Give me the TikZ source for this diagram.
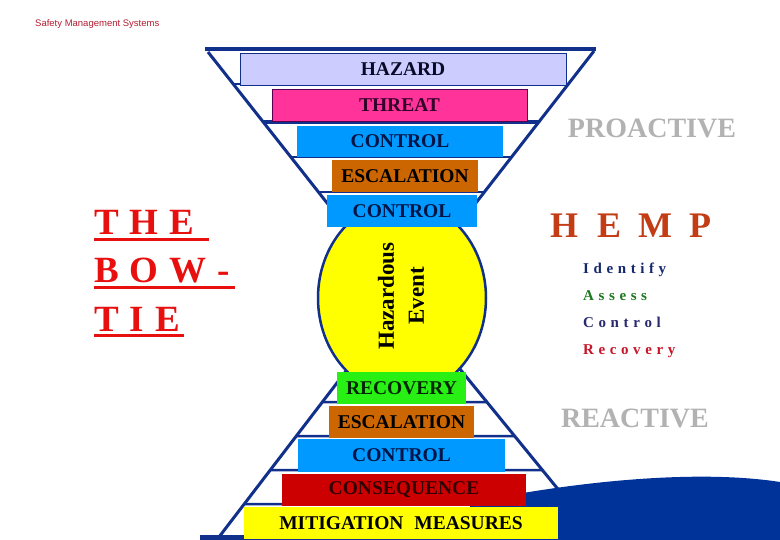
\documentclass[tikz,border=0pt]{standalone}
\usepackage{fontspec}
\setmainfont{Liberation Serif}
\newfontfamily\smsfont{Liberation Sans}
\definecolor{navy}{RGB}{16,48,140}
\definecolor{hillblue}{RGB}{0,51,153}
\definecolor{lav}{RGB}{204,204,255}
\definecolor{pinkc}{RGB}{255,51,153}
\definecolor{skyc}{RGB}{0,153,255}
\definecolor{brownc}{RGB}{204,102,0}
\definecolor{greenc}{RGB}{40,240,20}
\definecolor{redc}{RGB}{204,0,0}
\definecolor{yelc}{RGB}{255,255,0}
\definecolor{darktxt}{RGB}{10,10,40}
\definecolor{graytxt}{RGB}{178,178,178}
\definecolor{hempc}{RGB}{195,60,20}
\definecolor{bowred}{RGB}{232,15,15}
\definecolor{smsred}{RGB}{180,30,50}
\definecolor{idc}{RGB}{20,40,110}
\definecolor{asc}{RGB}{30,120,30}
\definecolor{coc}{RGB}{40,40,110}
\definecolor{rec}{RGB}{200,20,40}
\newcommand\ls{\hspace{4.6pt}}
\newcommand\bs{\hspace{11pt}}
\begin{document}
\begin{tikzpicture}[x=1pt,y=-1pt,
  funnel/.style={draw=navy,line width=3pt},
  stripe/.style={draw=navy,line width=2.5pt},
  band/.style={inner sep=0pt,outer sep=0pt,text=darktxt,
     font=\fontsize{19.5}{20}\selectfont\bfseries},
  side/.style={inner sep=0pt,font=\fontsize{28}{30}\selectfont\bfseries,text=graytxt},
  hemp/.style={inner sep=0pt,anchor=base west,font=\fontsize{15}{16}\selectfont\bfseries},
  bow/.style={inner sep=0pt,anchor=base west,text=bowred,font=\fontsize{37}{40}\selectfont\bfseries}]
\useasboundingbox (0,0) rectangle (780,540);
\fill[white] (0,0) rectangle (780,540);

% key points
\coordinate (TL) at (208,52);
\coordinate (TR) at (594,51);
\coordinate (C) at (402,298);
\coordinate (BL) at (219,537);
\coordinate (BR) at (597,537);

% funnel
\draw[navy,line width=4pt] (205,49) -- (596,49);
\draw[funnel] (TL) -- (C) -- (TR);
\draw[funnel] (BL) -- (C) -- (BR);
\foreach \yy/\w in {84/2.5,122/4,157/2.5,192/2.5}{
  \draw[navy,line width=\w pt] (intersection of TL--C and 0,\yy--1,\yy) -- (intersection of TR--C and 0,\yy--1,\yy);
}
\foreach \yy in {402,436,470,504}{
  \draw[stripe] (intersection of BL--C and 0,\yy--1,\yy) -- (intersection of BR--C and 0,\yy--1,\yy);
}
\draw[navy,line width=5pt] (200,537) -- (600,537);

% hill
\fill[hillblue] (470,540) -- (470,503) .. controls (560,484) and (690,468) .. (780,482) -- (780,540) -- cycle;

% hazardous event
\draw[navy,line width=2.5pt,fill=yelc] (C) ellipse [x radius=84, y radius=97];
\node[inner sep=0pt,rotate=90,align=center,text=black,
  font=\fontsize{23}{30}\selectfont\bfseries] (he) at (401,296) {Hazardous\\Event};

% top bands
\node[band,fill=lav,draw=navy,line width=0.8pt,minimum width=326,minimum height=32] (hazard) at (403,69) {HAZARD};
\node[band,fill=pinkc,draw={rgb,255:red,90;green,0;blue,80},line width=0.8pt,minimum width=255,minimum height=32,text={rgb,255:red,50;green,0;blue,40}] (threat) at (399.5,105) {THREAT};
\node[band,fill=skyc,minimum width=206,minimum height=31,text={rgb,255:red,0;green,20;blue,70}] (control1) at (400,141.5) {CONTROL};
\node[band,fill=brownc,minimum width=146,minimum height=32,text=black] (esc1) at (405,176) {ESCALATION};
\node[band,fill=skyc,minimum width=150,minimum height=32,text={rgb,255:red,0;green,20;blue,70}] (control2) at (402,211) {CONTROL};

% bottom bands
\node[band,fill=greenc,minimum width=129,minimum height=32,text={rgb,255:red,0;green,40;blue,0}] (recovery) at (401.5,388) {RECOVERY};
\node[band,fill=brownc,minimum width=145,minimum height=32,text=black] (esc2) at (401.5,422) {ESCALATION};
\node[band,fill=skyc,minimum width=207,minimum height=33,text={rgb,255:red,0;green,20;blue,70}] (control3) at (401.5,455.5) {CONTROL};
\node[band,fill=redc,minimum width=244,minimum height=32,text={rgb,255:red,50;green,0;blue,0}] (conseq) at (404,490) {CONSEQUENCE};
\node[band,fill=yelc,minimum width=314,minimum height=32,text=black] (mitig) at (401,523) {MITIGATION\hspace{6pt} MEASURES};

% header
\node[inner sep=0pt,anchor=west,text=smsred,font=\smsfont\fontsize{9.5}{10}\selectfont] (sms) at (35,24) {Safety Management Systems};

% right side
\node[side] (pro) at (652,128) {PROACTIVE};
\node[side] (rea) at (635,418) {REACTIVE};
\node[inner sep=0pt,anchor=base west,text=hempc,font=\fontsize{36}{38}\selectfont\bfseries] (hempt) at (550,238) {H\hspace{19pt}E\hspace{17pt}M\hspace{17pt}P};
\node[hemp,text=idc] (ident) at (583,274) {I\ls d\ls e\ls n\ls t\ls i\ls f\ls y};
\node[hemp,text=asc] (assess) at (583,301) {A\ls s\ls s\ls e\ls s\ls s};
\node[hemp,text=coc] (contr) at (583,328) {C\ls o\ls n\ls t\ls r\ls o\ls l};
\node[hemp,text=rec] (recov) at (583,355) {R\ls e\ls c\ls o\ls v\ls e\ls r\ls y};

% the bow-tie
\node[bow] (the) at (94,235) {T\bs H\bs E};
\node[bow] (bowt) at (94,283) {B\bs O\bs W\bs -};
\node[bow] (tie) at (94,332) {T\bs I\bs E};
\fill[bowred] (94,238.5) rectangle (209,241.5);
\fill[bowred] (94,286.5) rectangle (235,289.5);
\fill[bowred] (94,334.5) rectangle (184,337.5);
\end{tikzpicture}
\end{document}
